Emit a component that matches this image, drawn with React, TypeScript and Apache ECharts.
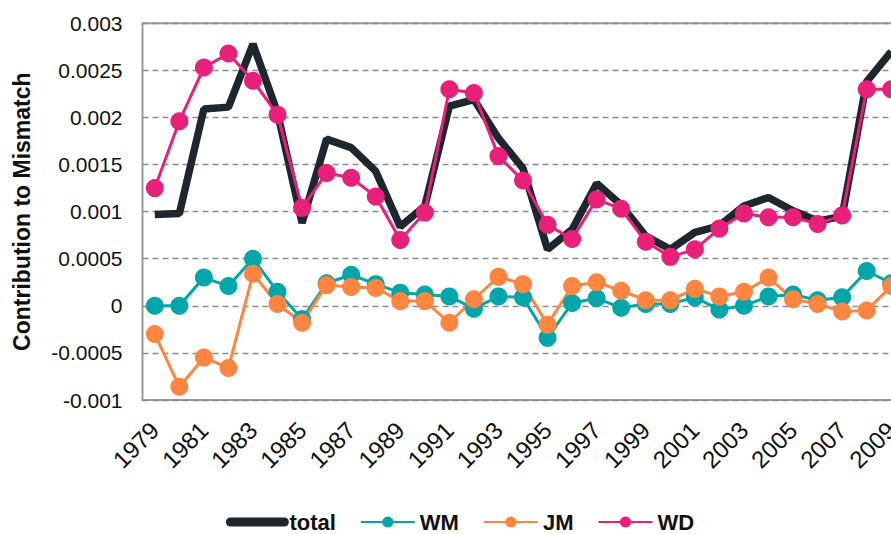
import React, { useEffect, useRef } from "react";
import * as echarts from "echarts";

const years = [
  "1979","1980","1981","1982","1983","1984","1985","1986","1987","1988",
  "1989","1990","1991","1992","1993","1994","1995","1996","1997","1998",
  "1999","2000","2001","2002","2003","2004","2005","2006","2007","2008","2009",
];

const totalValues = [
  0.00097, 0.00098, 0.00209, 0.00211, 0.00278, 0.00205, 0.00088, 0.00177, 0.00168, 0.00143,
  0.00084, 0.00106, 0.00212, 0.00219, 0.00178, 0.00146, 0.0006, 0.00081, 0.0013, 0.00107,
  0.00074, 0.0006, 0.00078, 0.00085, 0.00106, 0.00115, 0.00101, 0.0009, 0.00095, 0.00238, 0.0027,
];

const wmValues = [
  0, 0, 0.0003, 0.00021, 0.0005, 0.00015, -0.00014, 0.00024, 0.00033, 0.00023,
  0.00014, 0.00012, 0.0001, -0.00003, 0.0001, 0.00009, -0.00034, 0.00003, 0.00008, -0.00002,
  0.00002, 0.00002, 0.00009, -0.00004, 0, 0.0001, 0.00012, 0.00006, 0.00009, 0.00037, 0.00024,
];

const jmValues = [
  -0.0003, -0.00086, -0.00055, -0.00066, 0.00034, 0.00002, -0.00018, 0.00022, 0.0002, 0.00019,
  0.00005, 0.00005, -0.00018, 0.00007, 0.00031, 0.00023, -0.0002, 0.00021, 0.00025, 0.00016,
  0.00006, 0.00006, 0.00018, 0.0001, 0.00015, 0.0003, 0.00007, 0.00002, -0.00006, -0.00005, 0.00021,
];

const wdValues = [
  0.00125, 0.00196, 0.00253, 0.00268, 0.00239, 0.00203, 0.00104, 0.00141, 0.00136, 0.00116,
  0.0007, 0.00099, 0.0023, 0.00226, 0.00159, 0.00133, 0.00086, 0.00071, 0.00113, 0.00103,
  0.00068, 0.00052, 0.0006, 0.00082, 0.00098, 0.00094, 0.00094, 0.00087, 0.00096, 0.0023, 0.0023,
];

const FONT = "'Liberation Sans', Arial, sans-serif";

export default function App() {
  const ref = useRef<HTMLDivElement>(null);

  useEffect(() => {
    if (!ref.current) return;
    const chart = echarts.init(ref.current, undefined, { renderer: "svg" });
    const dotSeries = (name: string, data: number[], color: string) => ({
      name,
      type: "line",
      data,
      symbol: "circle",
      symbolSize: 18,
      showSymbol: true,
      showAllSymbol: true,
      lineStyle: { color, width: 3 },
      itemStyle: { color },
    });
    chart.setOption({
      animation: false,
      textStyle: { fontFamily: FONT },
      grid: { left: 142.5, right: 16.5, top: 23.3, bottom: 134, show: true, borderColor: "#9a9a9a", borderWidth: 2, backgroundColor: "transparent" },
      legend: {
        top: 506,
        left: "center",
        itemWidth: 54,
        itemHeight: 14,
        itemGap: 24,
        textStyle: { fontFamily: FONT, fontSize: 22, fontWeight: "bold", color: "#111" },
        data: [
          { name: "total", itemStyle: { opacity: 0, color: "rgba(0,0,0,0)", borderWidth: 0 }, lineStyle: { width: 9, cap: "round" } },
          "WM",
          "JM",
          "WD",
        ],
      },
      xAxis: {
        type: "category",
        data: years,
        boundaryGap: true,
        axisLine: { show: false },
        axisTick: { show: false },
        axisLabel: { interval: 1, rotate: 45, fontSize: 24, color: "#111", margin: 26, fontFamily: FONT },
        splitLine: { show: false },
      },
      yAxis: {
        type: "value",
        min: -0.001,
        max: 0.003,
        interval: 0.0005,
        name: "Contribution to Mismatch",
        nameLocation: "middle",
        nameGap: 109,
        nameTextStyle: { fontSize: 23, fontWeight: "bold", color: "#111", fontFamily: FONT },
        axisLine: { show: false },
        axisTick: { show: false },
        axisLabel: {
          fontSize: 21,
          color: "#111",
          margin: 20,
          fontFamily: FONT,
          formatter: (v: number) => String(+v.toFixed(4)),
        },
        splitLine: { show: true, lineStyle: { color: "#8c8c8c", type: [6, 4], width: 1.3 } },
      },
      series: [
        {
          name: "total",
          type: "line",
          data: totalValues,
          symbol: "none",
          lineStyle: { color: "#1e272e", width: 7.5 },
          itemStyle: { color: "#1e272e" },
        },
        dotSeries("WM", wmValues, "#00a6aa"),
        dotSeries("JM", jmValues, "#ff8540"),
        dotSeries("WD", wdValues, "#e8207a"),
      ],
    });
    return () => chart.dispose();
  }, []);

  return (
    <div style={{ position: "fixed", left: 0, top: 0, width: 891, height: 534, overflow: "hidden", background: "#fff" }}>
      <div ref={ref} style={{ width: 920, height: 534 }} />
    </div>
  );
}
